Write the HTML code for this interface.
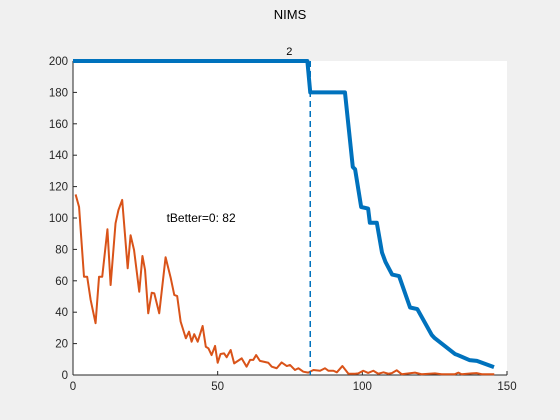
<!DOCTYPE html>
<html><head><meta charset="utf-8"><style>
html,body{margin:0;padding:0;background:#f0f0f0;}
svg{display:block;font-family:"Liberation Sans",Arial,sans-serif;}
</style></head><body>
<svg id="chart" width="560" height="420">
<rect x="0" y="0" width="560" height="420" fill="#f0f0f0"/>
<rect x="73" y="61" width="434" height="314" fill="#fff"/>
<text x="290" y="19" text-anchor="middle" font-size="13" fill="#000">NIMS</text>
<g id="axes"></g>
<g id="series"></g>
</svg>
<script>
const xTicks=[0,50,100,150];
const yTicks=[0,20,40,60,80,100,120,140,160,180,200];
const blueX=[0,81,82,94,96.7,97.5,99.6,102,102.6,105,106.8,108,110.3,112.7,116.5,119,124,125,132,133,137,139.6,145.5];
const blueY=[200,200,180,180,132.5,131,107,106,97,97,78,72,64,63,43,42,25.5,23.5,13.4,12.7,9.5,9,5];
const orangeX=[0.9,2.1,3.8,4.9,6.1,7.8,9,10.1,11.9,13,14.7,15.7,17,18.9,19.9,21.1,22.9,24,24.9,26,27.2,28.1,29.8,32,33.8,35,36,37.2,39,40.1,41,41.9,43.1,44.8,45.9,46.8,47.9,49.1,50,51,52.2,53.1,54.5,55.7,58.3,60,61.2,62.3,63.3,64.6,67.5,68.7,70.4,72.1,73.9,75,76.7,77.9,79.6,81.3,83.1,85.4,87.1,88.3,90,91.2,93.1,95.2,97.5,98.6,100.3,102,103.8,105.5,107.3,109,110.2,111.9,113.6,118.2,120.5,125.1,127.4,132,133.2,134.3,137.8,139.5,141.3,145.6];
const orangeY=[115,107,62.6,62.6,47.8,33,62.6,62.6,92.8,57.3,96.6,105,111.5,68,89,79.6,53,75.8,66.9,39.3,52.4,52,39.3,75,61.6,51,50.3,34,23.4,27.6,21.2,26,21.2,31.2,18,17,12.7,18.5,7.8,13.4,13.8,11.3,15.9,7.4,10.6,5.3,9.6,9.6,12.7,9,7.8,5.3,4.3,8,5.7,6.4,3.2,4.3,2.1,1.5,3.2,2.7,4.3,2.7,2.7,1.7,5.7,0.8,0.8,1,2.7,1.3,2.7,0.8,1.7,0.8,1.2,3,0.5,1.5,0.5,1,0.5,0.5,1.5,0.5,1,1.2,0.5,0.5];
const markerX=82;
const markerLabel="2";
const annotation="tBetter=0: 82";
const annX=32, annY=100;

const NS="http://www.w3.org/2000/svg";
const X0=73,X1=507,Y0=375,Y1=61;
const sx=v=>X0+(v-0)/(150-0)*(X1-X0);
const sy=v=>Y0-(v-0)/(200-0)*(Y0-Y1);
function mk(tag,attrs,parent){const e=document.createElementNS(NS,tag);for(const k in attrs)e.setAttribute(k,attrs[k]);parent.appendChild(e);return e;}
const ax=document.getElementById('axes'), se=document.getElementById('series');

let l=mk('line',{x1:X0,y1:Y0,x2:X1,y2:Y0,stroke:'#262626','stroke-width':1},ax);


l=mk('line',{x1:X0,y1:Y0,x2:X0,y2:Y1,stroke:'#262626','stroke-width':1},ax);


xTicks.forEach(t=>{
  const tk=mk('line',{x1:sx(t),y1:Y0,x2:sx(t),y2:Y0-4,stroke:'#262626'},ax);
  
  
  const tx=mk('text',{x:sx(t),y:Y0+15,'text-anchor':'middle','font-size':'11.5',fill:'#262626'},ax);
  tx.textContent=t;
  
  
});
yTicks.forEach(t=>{
  const tk=mk('line',{x1:X0,y1:sy(t),x2:X0+4,y2:sy(t),stroke:'#262626'},ax);
  
  
  const tx=mk('text',{x:X0-5,y:sy(t)+4,'text-anchor':'end','font-size':'11.5',fill:'#262626'},ax);
  tx.textContent=t;
  
  
});

let p=mk('polyline',{points:orangeX.map((x,i)=>sx(x)+','+sy(orangeY[i])).join(' '),fill:'none',stroke:'#d95319','stroke-width':2,'stroke-linejoin':'round'},se);


p=mk('line',{x1:sx(markerX),y1:Y1,x2:sx(markerX),y2:Y0,stroke:'#0072bd','stroke-width':1.5,'stroke-dasharray':'6,4'},se);


p=mk('polyline',{points:blueX.map((x,i)=>sx(x)+','+sy(blueY[i])).join(' '),fill:'none',stroke:'#0072bd','stroke-width':4,'stroke-linejoin':'round'},se);


let t=mk('text',{x:sx(markerX)-21,y:Y1-6,'text-anchor':'middle','font-size':'11',fill:'#000'},se);
t.textContent=markerLabel;


t=mk('text',{x:sx(annX)+1,y:sy(annY)+4,'font-size':'12',fill:'#000'},se);
t.textContent=annotation;


</script>
</body></html>
